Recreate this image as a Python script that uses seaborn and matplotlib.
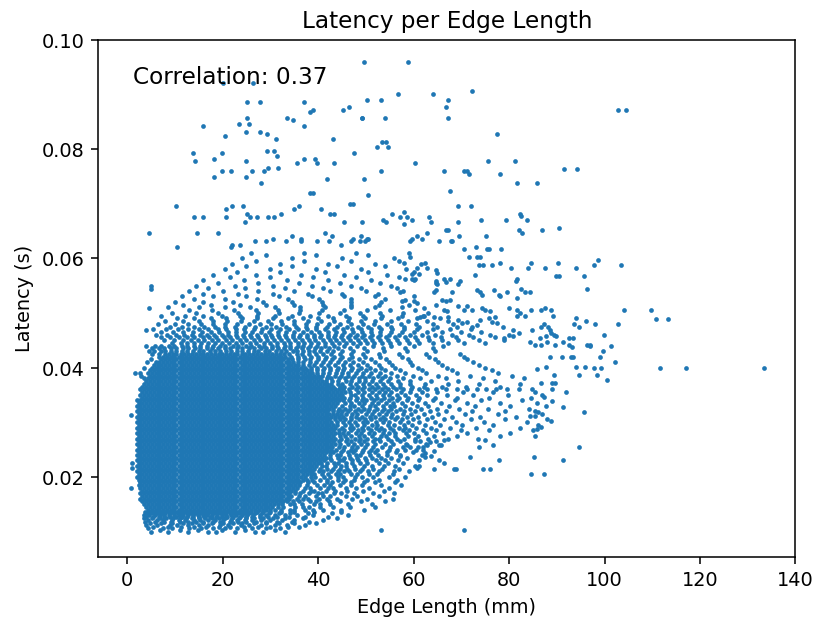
import matplotlib
matplotlib.use("Agg")
import matplotlib.pyplot as plt
import numpy as np
import pandas as pd
import seaborn as sns

correlation = 0.37
x_ticks = [0, 20, 40, 60, 80, 100, 120, 140]
y_ticks = [0.02, 0.04, 0.06, 0.08, 0.10]

# Measurements grouped by latency (units of 0.1 ms); each entry lists the
# edge lengths (units of 0.1 mm) observed at that latency.
row_latency = [
    100, 103, 106, 109, 112, 115, 118, 121, 124, 127, 130, 133, 136,
    140, 145, 150, 155, 160, 165, 170, 175, 180, 185, 190, 195, 200, 205,
    210, 215, 220, 225, 230, 235, 240, 245, 250, 255, 260, 265, 270, 275,
    280, 285, 290, 295, 300, 305, 310, 315, 320, 325, 330, 335, 340, 345,
    350, 355, 360, 365, 370, 375, 380, 385, 390, 395, 400, 405, 410, 415,
    420, 425, 430, 435, 440,
    445, 450, 455, 460, 465, 470, 475, 480, 485, 490, 495, 500, 505, 510,
    515, 520, 525, 530, 535, 540, 545, 550, 555, 560, 565, 570, 575, 580,
    585, 590, 595, 600, 605, 610,
]

row_lengths = [
    [51,86,128,170,187,226,268,285,331],
    [68,110,149,198,247,310],
    [44,75,95,130,155,180,205,230,262,290,320],
    [55,85,112,140,166,192,215,245,275,300,338,360],
    [40,62,90,105,128,150,170,195,212,238,255,280,310,335,372],
    [48,70,95,118,135,160,178,200,222,240,265,290,318,350,395],
    [38,58,78,92,110,128,145,160,180,195,215,232,250,270,292,315,345,380],
    [44,62,75,95,108,122,140,152,170,185,200,218,230,248,262,280,300,325,350,410],
    [36,52,68,82,96,110,124,136,150,164,178,192,206,220,234,250,266,285,305,330,368,440],
    [40,55,66,78,90,102,114,126,138,150,162,174,186,198,210,222,236,250,262,278,295,315,340,372,420],
    [35,46,58,68,78,88,98,108,118,128,138,148,158,168,178,188,198,208,218,228,240,252,264,278,292,310,330,355,390,462],
    [42,52,62,71,80,89,98,107,116,125,134,143,152,161,170,179,188,197,206,215,224,234,244,255,268,282,298,318,342,378,430],
    [38,47,56,64,72,80,88,96,104,112,120,128,136,144,152,160,168,176,184,192,200,208,216,224,232,241,250,260,272,285,300,322,350,392,448],
    # 14.0 ms
    [44,52,60,67,76,84,92,99,108,116,124,131,140,148,156,163,172,180,188,195,204,212,220,227,236,244,252,259,268,276,284,291,300,
     309,322,341,350,372,389,411,448,497],
    [39,48,56,64,71,80,88,96,103,112,120,128,135,144,152,160,167,176,184,192,199,208,216,224,231,240,248,256,263,272,280,288,295,304,
     316,327,352,369,380,405,431,466,520],
    [35,44,52,60,67,76,84,92,99,108,116,124,131,140,148,156,163,172,180,188,195,204,212,220,227,236,244,252,259,268,276,284,291,300,308,316,
     324,341,349,366,392,404,426,463,512],
    [32,39,48,56,64,71,80,88,96,103,112,120,128,135,144,152,160,167,176,184,192,199,208,216,224,231,240,248,256,263,272,280,288,295,304,312,320,327,
     335,348,361,384,396,422,447,489,541],
    [28,35,44,52,60,67,76,84,92,99,108,116,124,131,140,148,156,163,172,180,188,195,204,212,220,227,236,244,252,259,268,276,284,291,300,308,316,323,332,
     340,356,368,378,402,419,440,471,503,556],
    [32,39,48,56,64,71,80,88,96,103,112,120,128,135,144,152,160,167,176,184,192,199,208,216,224,231,240,248,256,263,272,280,288,295,304,312,320,327,336,
     344,361,372,395,411,426,458,482,527],
    [28,35,44,52,60,67,76,84,92,99,108,116,124,131,140,148,156,163,172,180,188,195,204,212,220,227,236,244,252,259,268,276,284,291,300,308,316,323,332,340,
     352,363,381,399,408,433,449,476,515,560],
    [32,39,48,56,64,71,80,88,96,103,112,120,128,135,144,152,160,167,176,184,192,199,208,216,224,231,240,248,256,263,272,280,288,295,304,312,320,327,336,344,
     351,369,385,392,417,436,461,494,538],
    [28,35,44,52,60,67,76,84,92,99,108,116,124,131,140,148,156,163,172,180,188,195,204,212,220,227,236,244,252,259,268,276,284,291,300,308,316,323,332,340,348,
     356,372,383,404,420,431,458,479,507,548],
    [24,32,39,48,56,64,71,80,88,96,103,112,120,128,135,144,152,160,167,176,184,192,199,208,216,224,231,240,248,256,263,272,280,288,295,304,312,320,327,336,344,352,
     361,377,398,412,424,447,470,492,531,573],
    [28,35,44,52,60,67,76,84,92,99,108,116,124,131,140,148,156,163,172,180,188,195,204,212,220,227,236,244,252,259,268,276,284,291,300,308,316,323,332,340,348,355,
     363,379,392,418,430,452,468,496,519,562],
    [24,32,39,48,56,64,71,80,88,96,103,112,120,128,135,144,152,160,167,176,184,192,199,208,216,224,231,240,248,256,263,272,280,288,295,304,312,320,327,336,344,352,359,368,
     376,388,405,418,441,456,475,503,528,565],
    # 20.0 ms
    [20,28,35,44,52,60,67,76,84,92,99,108,116,124,131,140,148,156,163,172,180,188,195,204,212,220,227,236,244,252,259,268,276,284,291,300,308,316,323,332,340,348,355,364,
     373,386,394,413,425,441,452,477,491,515,548,582],
    [24,32,39,48,56,64,71,80,88,96,103,112,120,128,135,144,152,160,167,176,184,192,199,208,216,224,231,240,248,256,263,272,280,288,295,304,312,320,327,336,344,352,359,368,376,
     385,392,409,421,438,447,469,482,507,524,556],
    [20,28,35,44,52,60,67,76,84,92,99,108,116,124,131,140,148,156,163,172,180,188,195,204,212,220,227,236,244,252,259,268,276,284,291,300,308,316,323,332,340,348,355,364,372,380,
     388,401,410,427,442,455,464,487,505,528,559,590],
    [24,32,39,48,56,64,71,80,88,96,103,112,120,128,135,144,152,160,167,176,184,192,199,208,216,224,231,240,248,256,263,272,280,288,295,304,312,320,327,336,344,352,359,368,376,384,
     392,404,419,431,446,460,478,491,516,533,569],
    [20,28,35,44,52,60,67,76,84,92,99,108,116,124,131,140,148,156,163,172,180,188,195,204,212,220,227,236,244,252,259,268,276,284,291,300,308,316,323,332,340,348,355,364,372,380,387,
     396,408,417,436,449,458,476,497,512,538,561,602],
    [24,32,39,48,56,64,71,80,88,96,103,112,120,128,135,144,152,160,167,176,184,192,199,208,216,224,231,240,248,256,263,272,280,288,295,304,312,320,327,336,344,352,359,368,376,384,391,400,
     407,418,433,441,459,472,488,503,527,546,578],
    [20,28,35,44,52,60,67,76,84,92,99,108,116,124,131,140,148,156,163,172,180,188,195,204,212,220,227,236,244,252,259,268,276,284,291,300,308,316,323,332,340,348,355,364,372,380,387,396,
     404,413,428,445,453,471,483,500,521,540,567,611],
    [24,32,39,48,56,64,71,80,88,96,103,112,120,128,135,144,152,160,167,176,184,192,199,208,216,224,231,240,248,256,263,272,280,288,295,304,312,320,327,336,344,352,359,368,376,384,391,400,408,
     417,426,441,455,466,482,498,514,531,552,587],
    [20,28,35,44,52,60,67,76,84,92,99,108,116,124,131,140,148,156,163,172,180,188,195,204,212,220,227,236,244,252,259,268,276,284,291,300,308,316,323,332,340,348,355,364,372,380,387,396,404,
     412,424,439,447,465,479,488,509,526,545,572,618],
    [24,32,39,48,56,64,71,80,88,96,103,112,120,128,135,144,152,160,167,176,184,192,199,208,216,224,231,240,248,256,263,272,280,288,295,304,312,320,327,336,344,352,359,368,376,384,391,400,408,416,
     424,431,449,462,474,493,507,520,544,563,598],
    # 25.0 ms
    [20,28,35,44,52,60,67,76,84,92,99,108,116,124,131,140,148,156,163,172,180,188,195,204,212,220,227,236,244,252,259,268,276,284,291,300,308,316,323,332,340,348,355,364,372,380,387,396,404,412,419,
     427,438,452,468,477,494,511,523,549,566,605],
    [24,32,39,48,56,64,71,80,88,96,103,112,120,128,135,144,152,160,167,176,184,192,199,208,216,224,231,240,248,256,263,272,280,288,295,304,312,320,327,336,344,352,359,368,376,384,391,400,408,416,423,
     430,443,455,472,481,499,516,534,551,577,620],
    [20,28,35,44,52,60,67,76,84,92,99,108,116,124,131,140,148,156,163,172,180,188,195,204,212,220,227,236,244,252,259,268,276,284,291,300,308,316,323,332,340,348,355,364,372,380,387,396,404,412,419,428,
     436,447,462,475,489,503,520,541,558,584,627],
    [24,32,39,48,56,64,71,80,88,96,103,112,120,128,135,144,152,160,167,176,184,192,199,208,216,224,231,240,248,256,263,272,280,288,295,304,312,320,327,336,344,352,359,368,376,384,391,400,408,416,423,
     431,444,458,470,485,497,515,530,553,571,602,646],
    [20,28,35,44,52,60,67,76,84,92,99,108,116,124,131,140,148,156,163,172,180,188,195,204,212,220,227,236,244,252,259,268,276,284,291,300,308,316,323,332,340,348,355,364,372,380,387,396,404,412,419,428,
     436,448,461,477,488,503,519,528,547,566,580,603,631,672,735],
    [24,32,39,48,56,64,71,80,88,96,103,112,120,128,135,144,152,160,167,176,184,192,199,208,216,224,231,240,248,256,263,272,280,288,295,304,312,320,327,336,344,352,359,368,376,384,391,400,408,416,423,
     431,445,456,470,486,497,513,531,542,561,588,609,642,690,781],
    # 28.0 ms
    [20,28,35,44,52,60,67,76,84,92,99,108,116,124,131,140,148,156,163,172,180,188,195,204,212,220,227,236,244,252,259,268,276,284,291,300,308,316,323,332,340,348,355,364,372,380,387,396,404,412,419,428,436,444,
     452,463,479,490,506,518,535,549,562,584,601,627,661,712,802],
    [24,32,39,48,56,64,71,80,88,96,103,112,120,128,135,144,152,160,167,176,184,192,199,208,216,224,231,240,248,256,263,272,280,288,295,304,312,320,327,336,344,352,359,368,376,384,391,400,408,416,423,432,
     444,455,468,483,495,511,527,538,556,577,590,619,648,699,758,850],
    [20,28,35,44,52,60,67,76,84,92,99,108,116,124,131,140,148,156,163,172,180,188,195,204,212,220,227,236,244,252,259,268,276,284,291,300,308,316,323,332,340,348,355,364,372,380,387,396,404,412,419,428,436,
     451,466,474,491,505,522,531,550,569,583,606,637,676,731,824],
    [24,32,39,48,56,64,71,80,88,96,103,112,120,128,135,144,152,160,167,176,184,192,199,208,216,224,231,240,248,256,263,272,280,288,295,304,312,320,327,336,344,352,359,368,376,384,391,400,408,416,423,432,440,
     456,470,481,497,513,524,546,559,579,597,623,655,702,767,861],
    [20,28,35,44,52,60,67,76,84,92,99,108,116,124,131,140,148,156,163,172,180,188,195,204,212,220,227,236,244,252,259,268,276,284,291,300,308,316,323,332,340,348,355,364,372,380,387,396,404,412,419,428,
     440,452,465,477,494,503,521,537,548,571,589,612,644,689,747,838],
    [24,32,39,48,56,64,71,80,88,96,103,112,120,128,135,144,152,160,167,176,184,192,199,208,216,224,231,240,248,256,263,272,280,288,295,304,312,320,327,336,344,352,359,368,376,384,391,400,408,416,423,
     436,446,457,469,485,498,510,529,541,562,576,599,628,663,720,792,880],
    [20,28,35,44,52,60,67,76,84,92,99,108,116,124,131,140,148,156,163,172,180,188,195,204,212,220,227,236,244,252,259,268,276,284,291,300,308,316,323,332,340,348,355,364,372,380,387,396,404,412,419,428,436,444,
     453,468,479,492,508,519,536,552,566,587,610,638,681,739,815],
    [24,32,39,48,56,64,71,80,88,96,103,112,120,128,135,144,152,160,167,176,184,192,199,208,216,224,231,240,248,256,263,272,280,288,295,304,312,320,327,336,344,352,359,368,376,384,391,400,408,416,423,432,440,448,
     458,471,482,501,512,528,543,555,578,594,621,652,708,776,869],
    [20,28,35,44,52,60,67,76,84,92,99,108,116,124,131,140,148,156,163,172,180,188,195,204,212,220,227,236,244,252,259,268,276,284,291,300,308,316,323,332,340,348,355,364,372,380,387,396,404,412,419,
     432,442,451,463,478,489,504,517,533,547,564,581,603,634,667,723,791,854],
    [24,32,39,48,56,64,71,80,88,96,103,112,120,128,135,144,152,160,167,176,184,192,199,208,216,224,231,240,248,256,263,272,280,288,295,304,312,320,327,336,344,352,359,368,376,384,391,400,408,416,423,432,
     444,456,467,484,496,507,523,539,553,572,592,616,649,695,755,842],
    [20,28,35,44,52,60,67,76,84,92,99,108,116,124,131,140,148,156,163,172,180,188,195,204,212,220,227,236,244,252,259,268,276,284,291,300,308,316,323,332,340,348,355,364,372,380,387,396,404,412,419,428,436,
     450,466,475,492,509,520,535,551,560,583,607,631,674,728,803,877],
    [24,32,39,48,56,64,71,80,88,96,103,112,120,128,135,144,152,160,167,176,184,192,199,208,216,224,231,240,248,256,263,272,280,288,295,304,312,320,327,336,344,352,359,368,376,384,391,400,408,416,423,432,440,
     457,470,486,497,514,526,542,557,575,596,624,658,713,781,859],
    [20,28,35,44,52,60,67,76,84,92,99,108,116,124,131,140,148,156,163,172,180,188,195,204,212,220,227,236,244,252,259,268,276,284,291,300,308,316,323,332,340,348,355,364,372,380,387,396,404,412,419,428,436,444,
     452,464,480,493,501,518,532,549,565,586,609,641,686,742,827],
    # 34.5 ms
    [32,39,48,56,64,71,80,88,96,103,112,120,128,135,144,152,160,167,176,184,192,199,208,216,224,231,240,248,256,263,272,280,288,295,304,312,320,327,336,344,352,359,368,376,384,391,400,408,416,423,432,440,448,
     455,467,482,494,511,523,539,554,570,589,611,644,692,757,846],
    [28,35,44,52,60,67,76,84,92,99,108,116,124,131,140,148,156,163,172,180,188,195,204,212,220,227,236,244,252,259,268,276,284,291,300,308,316,323,332,340,348,355,364,372,380,387,396,404,412,419,428,436,444,
     451,469,477,493,507,521,536,549,566,582,605,629,670,724,798,870],
    [32,39,48,56,64,71,80,88,96,103,112,120,128,135,144,152,160,167,176,184,192,199,208,216,224,231,240,248,256,263,272,280,288,295,304,312,320,327,336,344,352,359,368,376,384,391,400,408,416,423,432,440,448,
     456,466,483,496,512,527,541,553,574,593,618,650,703,766,855],
    [28,35,44,52,60,67,76,84,92,99,108,116,124,131,140,148,156,163,172,180,188,195,204,212,220,227,236,244,252,259,268,276,284,291,300,308,316,323,332,340,348,355,364,372,380,387,396,404,412,419,428,436,444,
     452,465,479,491,506,519,534,547,563,578,594,611,629,648,668,690,712,733,751,772,796,821,848,889],
    [32,39,48,56,64,71,80,88,96,103,112,120,128,135,144,152,160,167,176,184,192,199,208,216,224,231,240,248,256,263,272,280,288,295,304,312,320,327,336,344,352,359,368,376,384,391,400,408,416,423,
     432,446,455,471,484,497,513,525,541,558,572,596,621,660,709,781],
    [35,44,52,60,67,76,84,92,99,108,116,124,131,140,148,156,163,172,180,188,195,204,212,220,227,236,244,252,259,268,276,284,291,300,308,316,323,332,340,348,355,364,372,380,387,396,404,412,419,
     428,441,450,466,479,494,506,522,537,553,571,592,625,672,738,824],
    [39,48,56,64,71,80,88,96,103,112,120,128,135,144,152,160,167,176,184,192,199,208,216,224,231,240,248,256,263,272,280,288,295,304,312,320,327,336,344,352,359,368,376,384,391,400,408,
     417,430,442,458,469,485,498,514,530,547,568,593,636,694,770],
    [35,44,52,60,67,76,84,92,99,108,116,124,131,140,148,156,163,172,180,188,195,204,212,220,227,236,244,252,259,268,276,284,291,300,308,316,323,332,340,348,355,364,372,380,387,396,
     405,418,427,444,457,471,486,499,516,534,551,577,614,668,745,832],
    [30,48,56,64,71,80,88,96,103,112,120,128,135,144,152,160,167,176,184,192,199,208,216,224,231,240,248,256,263,272,280,288,295,304,312,320,327,336,344,352,359,368,376,384,391,400,
     409,420,436,448,463,476,492,507,525,541,566,598,652,718,806],
    [28,44,52,60,67,76,84,92,99,108,116,124,131,140,148,156,163,172,180,188,195,204,212,220,227,236,244,252,259,268,276,284,291,300,308,316,323,332,340,348,355,364,372,380,387,
     398,410,422,437,451,463,479,495,511,530,552,583,627,690,777],
    # 39.5 ms
    [48,56,64,71,80,88,96,103,112,120,128,135,144,152,160,167,176,184,192,199,208,216,224,231,240,248,256,263,272,280,288,295,304,312,320,327,336,344,352,359,368,376,
     386,397,411,424,439,453,468,483,500,519,541,572,618,681,764],
    [36,52,60,67,76,84,92,99,108,116,124,131,140,148,156,163,172,180,188,195,204,212,220,227,236,244,252,259,268,276,284,291,300,308,316,323,332,340,348,355,364,
     373,385,398,412,426,441,455,472,489,508,531,562,609,671,749],
    [56,64,71,80,88,96,103,112,120,128,135,144,152,160,167,176,184,192,199,208,216,224,231,240,248,256,263,272,280,288,295,304,312,320,327,336,344,352,359,
     368,381,392,407,421,436,452,466,484,503,527,555,597,659,737],
    [42,60,67,76,84,92,99,108,116,124,131,140,148,156,163,172,180,188,195,204,212,220,227,236,244,252,259,268,276,284,291,300,308,316,323,332,340,348,
     357,369,383,395,410,424,441,456,473,494,519,548,592,651,724],
    [50,71,80,88,96,103,112,120,128,135,144,152,160,167,176,184,192,199,208,216,224,231,240,248,256,263,272,280,288,295,304,312,320,327,336,
     345,358,372,384,399,415,430,446,465,486,511,543,588,644,712],
    [67,76,84,92,99,108,116,124,131,140,148,156,163,172,180,188,195,204,212,220,227,236,244,252,259,268,276,284,291,300,308,316,323,
     331,344,358,370,385,400,416,433,451,472,498,529,575,633,705],
    [52,66,80,88,96,103,112,120,128,135,144,152,160,167,176,184,192,199,208,216,224,231,240,248,256,263,272,280,288,295,304,312,320,
     328,340,355,367,382,396,411,428,447,468,495,527,570,626,698],
    [45,57,70,79,93,103,116,126,139,151,160,174,185,194,208,218,231,240,254,266,275,289,298,312,323,333,347,356,369,381,392,404,418,432,
     451,473,502,538,586,645],
    [52,67,77,92,103,117,128,142,152,167,178,190,205,215,230,240,255,265,280,292,303,317,328,342,353,367,378,393,406,423,441,
     466,497,535,582,640],
    [40,59,71,87,98,114,125,141,152,168,179,195,206,222,233,249,260,276,287,303,314,330,341,357,368,384,398,415,433,455,
     482,515,553,600,661],
    # 44.5 ms and above
    [95,112,126,141,154,170,184,199,213,228,241,257,270,286,300,313,329,342,357,371,386,400,415,429,444,458,473,488,502,518,534,551,570,590,612,640,672,705,750],
    [78,98,118,133,149,162,178,191,207,220,236,249,265,278,294,307,323,336,352,366,381,394,410,424,438,453,467,483,498,513,529,547,565,586,608,632,660,694,738,790],
    [70,90,108,125,140,158,171,187,202,216,231,245,260,274,290,303,318,333,348,361,377,391,405,420,434,449,462,478,493,509,526,542,561,583,604,630,657,688,725,770],
    [60,84,102,120,136,152,168,183,198,212,228,243,258,272,288,302,317,331,347,362,376,391,406,420,436,451,466,482,497,514,530,549,570,592,618,645,680,716,760],
    [72,96,117,138,156,176,192,211,228,246,262,281,297,316,333,350,368,386,402,420,438,455,474,492,511,530,552,575,600,628,660,700,742],
    [55,82,106,128,150,170,190,208,228,245,265,283,302,320,340,358,377,395,415,433,452,471,490,510,532,555,580,608,640,676,721],
    [90,115,140,162,185,205,226,247,268,290,311,332,354,375,396,418,440,461,483,505,528,553,580,612,650,690],
    [65,100,128,155,180,205,230,255,278,302,325,350,374,398,422,446,470,494,518,545,574,605,640,682],
    [80,118,150,180,210,238,266,295,322,350,378,406,434,462,490,520,552,588,628,672],
    [105,140,175,208,240,272,305,336,368,400,432,465,498,532,568,608,655],
    [70,122,160,198,236,272,310,346,384,420,458,495,534,575,620],
    [95,145,190,232,275,318,360,402,445,488,530,578,630],
    [130,178,224,270,316,362,408,455,502,550,602],
    [86,150,205,258,310,362,415,468,520,575],
    [118,175,236,292,350,410,470,528,590],
    [100,160,222,285,345,408,470,532],
    [140,205,272,338,402,468,540],
    [115,180,250,318,388,455,520,600],
    [160,232,305,378,450,525],
    [130,200,275,350,425,500,578],
    [170,248,330,410,490,565],
    [51,145,225,305,388,470,552],
    [190,275,360,445,530],
    [160,245,335,420,510,600],
    [215,300,390,480,570],
    [180,270,365,455,545],
    [230,320,415,505,600],
    [205,300,395,490,585],
    [250,345,440,540],
    [220,320,420,520,615],
    [270,370,470,570],
    [240,345,450,560],
    [290,395,505],
    [260,370,480,590],
]

# Individual measurements away from the main cloud:
# (edge length in 0.1 mm, latency in 0.1 ms)
isolated_points = [
    (200,921),(264,921),(252,885),(279,885),(370,885),(390,872),(384,868),(160,841),(252,857),(235,846),
    (256,846),(335,857),(348,852),(370,841),(249,831),(279,831),(293,828),(205,823),(311,818),(431,818),
    (138,793),(199,793),(293,797),(308,797),(314,787),(143,777),(182,782),(249,777),(370,782),(393,782),
    (397,774),(355,774),(434,774),(296,765),(317,765),(199,759),(217,759),(261,759),(287,759),(182,749),
    (249,749),(281,738),(419,744),(384,720),(390,720),(103,695),(208,690),(220,695),(243,695),(350,690),
    (361,695),(407,690),(252,680),(258,675),(140,675),(158,675),(208,675),(272,675),(296,675),(308,675),
    (323,680),(426,680),(434,680),(247,667),(46,646),(146,646),(191,646),(105,620),(219,625),(217,620),
    (237,625),(267,631),(290,631),(305,636),(332,631),(346,641),(364,636),(364,631),(398,631),(414,646),
    (422,631),
    (496,959),(588,959),(567,901),(640,901),(722,905),(502,890),(531,890),(673,890),(669,877),(673,857),
    (452,872),(464,877),(491,857),(493,857),(540,857),(775,828),(534,813),(543,813),(523,803),(546,803),
    (476,793),(602,774),(531,759),(664,759),(705,759),(711,759),(716,754),(755,777),(781,754),(813,777),
    (816,738),(858,738),(916,764),(496,744),(505,716),(676,723),(467,700),(473,700),(693,695),(720,695),
    (555,680),(581,685),(572,675),(587,675),(596,670),(632,675),(637,667),(581,662),(455,667),(493,667),
    (537,670),(543,667),(693,667),(741,670),(793,670),(822,680),(825,677),(837,670),(820,652),(828,646),
    (869,652),(905,656),(667,652),(672,652),(628,646),(752,641),(696,641),(607,641),(617,636),(593,631),
    (596,636),(490,641),(470,631),(473,636),(502,636),(505,636),(499,631),(488,631),(429,641),(449,625),
    (653,631),(678,631),(681,631),(731,620),(753,616),(759,616),(784,616),(705,616),
    (1028,872),(1046,872),(943,764),
    (987,597),(978,587),(1034,587),(1040,505),(1098,505),(1107,489),(1134,489),(981,480),(1028,480),(998,459),
    (970,440),(1014,440),(996,431),(990,420),(1022,410),(978,400),(993,400),(1116,400),(1170,400),(1334,400),
    (984,387),(1005,377),
    (846,592),(805,582),(840,582),(875,582),(902,592),(899,567),(905,567),(940,582),(957,567),(963,544),
    (814,559),(817,562),(796,539),(825,544),(834,539),(843,539),(817,528),(782,530),(799,508),(817,505),
    (822,500),(817,495),(834,495),(846,505),(866,505),(875,508),(887,505),(893,495),(940,490),(937,480),
    (946,475),(961,485),(787,475),(808,469),(820,464),(799,459),(808,457),(790,454),(849,469),(866,475),
    (873,480),(882,475),(885,469),(887,464),(878,457),(864,454),(894,459),(899,457),(925,454),(934,454),
    (843,446),(855,442),(866,442),(880,446),(896,442),(914,446),(925,442),(932,437),(963,442),(969,442),
    (911,420),(929,420),(934,420),(885,420),(940,401),(960,401),(946,387),(878,401),(859,397),(894,387),
    (896,372),(890,372),(866,372),(919,356),(890,338),(873,346),(913,328),(958,318),(887,303),(861,318),
    (855,312),(843,312),(866,291),(859,287),(855,274),
    (593,602),(581,592),(625,592),(628,582),(607,582),(611,571),(597,571),(717,602),(733,602),(739,602),
    (738,588),(745,588),(764,588),(782,591),(646,579),(649,573),(583,562),(597,562),(604,562),(646,559),
    (646,555),(649,552),(663,562),(667,556),(677,562),(694,553),(698,558),(729,570),(572,539),(642,539),
    (646,542),(680,539),(733,542),(740,539),(743,533),(768,542),(778,533),(576,521),(583,524),(600,521),
    (607,518),(621,509),(646,515),(660,524),(667,521),(677,524),(694,512),(705,506),(712,512),(722,506),
    (743,509),(750,506),(761,503),(771,493),(663,506),(670,503),(673,493),(614,493),(621,494),(642,493),
    (694,487),(702,481),(712,484),(722,475),(733,478),(740,487),(757,491),(764,484),(775,481),
    (946,254),(852,236),(913,231),(845,205),(873,205),(780,231),(767,259),(737,254),(749,268),(719,236),
    (746,215),(761,215),(684,215),(688,215),(663,225),(653,230),(643,215),(637,238),(625,236),(642,248),
    (653,259),(658,259),(663,268),(634,263),(628,259),(620,249),(623,244),(609,254),(607,216),(611,220),
    (705,102),(614,265),(593,254),(583,249),(572,238),(586,259),
    (8,313),(8,180),(10,225),(10,216),(16,390),(40,469),(51,544),(46,508),(532,103),
]

assert len(row_latency) == len(row_lengths)

length_dmm = []
latency_dms = []
for lat, xs in zip(row_latency, row_lengths):
    length_dmm.extend(xs)
    latency_dms.extend([lat] * len(xs))
for x, lat in isolated_points:
    length_dmm.append(x)
    latency_dms.append(lat)

df = pd.DataFrame({
    "edge_length_mm": np.asarray(length_dmm, dtype=float) / 10.0,
    "latency_s": np.asarray(latency_dms, dtype=float) / 10000.0,
})

DPI = 139
fig = plt.figure(figsize=(814.5 / DPI, 620.5 / DPI), dpi=DPI)
ax = fig.add_axes([98 / 814, 1 - 557 / 620, 697 / 814, 517 / 620])

sns.scatterplot(data=df, x="edge_length_mm", y="latency_s", s=6,
                color="#1f77b4", linewidth=0, legend=False, ax=ax)

ax.set_xlim(-6.08, 140)
ax.set_ylim(0.00535, 0.1)
ax.set_xticks(x_ticks)
ax.set_yticks(y_ticks)
ax.set_title("Latency per Edge Length")
ax.set_xlabel("Edge Length (mm)")
ax.set_ylabel("Latency (s)")
ax.text(0.05, 0.95, f"Correlation: {correlation:.2f}", transform=ax.transAxes,
        fontsize=12, va="top", ha="left")

fig.savefig("out.png", dpi=DPI)
